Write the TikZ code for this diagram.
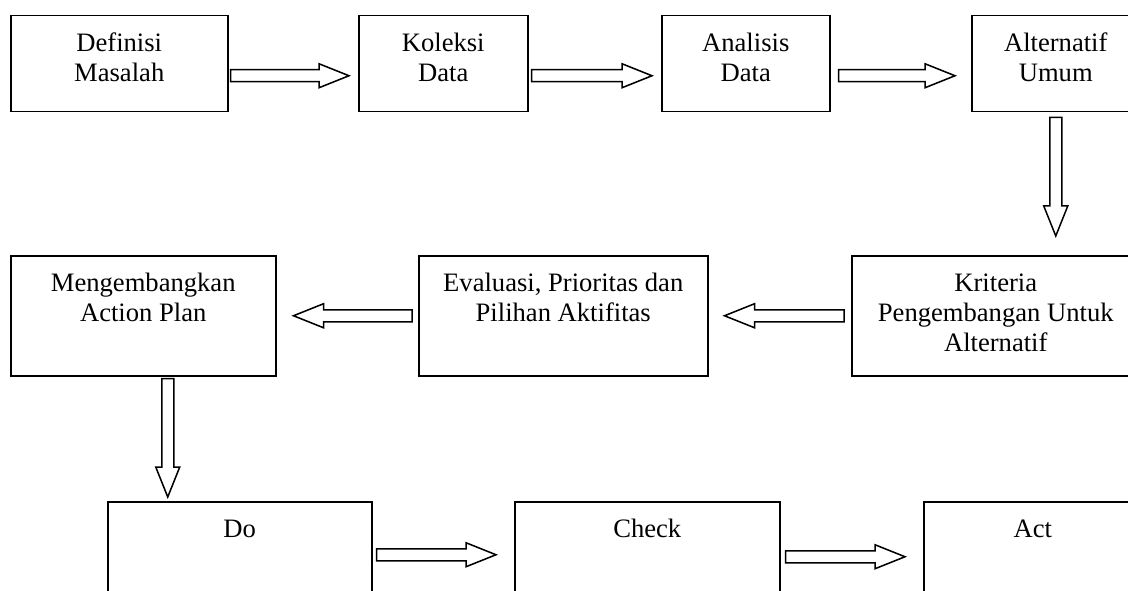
\documentclass[tikz,border=0pt]{standalone}
\usepackage{fontspec}
\setmainfont{Liberation Serif}
\usetikzlibrary{calc}

\tikzset{
  box/.style={draw, line width=1.5pt, inner sep=0pt, anchor=north west},
  lbl/.style={align=center, inner sep=0pt, anchor=base,
    font=\fontsize{26.6}{30}\selectfont},
  blockarrow/.style={draw, line width=1.5pt, line join=miter, fill=white},
}

% hollow block arrow from coordinate #1 to coordinate #2
\newcommand\fatarrow[2]{%
  \draw[blockarrow] let \p1=(#1), \p2=(#2),
    \n1={atan2(\y2-\y1,\x2-\x1)}, \n2={veclen(\x2-\x1,\y2-\y1)} in
    [shift={(\p1)}, rotate=\n1]
    (0,-6) -- ({\n2-30},-6) -- ({\n2-30},-12) -- (\n2,0)
    -- ({\n2-30},12) -- ({\n2-30},6) -- (0,6) -- cycle;}

\begin{document}
\begin{tikzpicture}[x=1pt, y=1pt]
\useasboundingbox (0,0) rectangle (1128,-591);
\clip (0,0) rectangle (1128,-591);

% first row
\node[box, minimum width=217pt, minimum height=96pt] (def) at (10,-15) {};
\node[box, minimum width=169pt, minimum height=96pt] (kol) at (358,-15) {};
\node[box, minimum width=168pt, minimum height=96pt] (ana) at (661,-15) {};
\node[box, minimum width=168pt, minimum height=96pt] (alt) at (971,-15) {};

% second row
\node[box, minimum width=265pt, minimum height=120pt] (men) at (10,-255) {};
\node[box, minimum width=289pt, minimum height=120pt] (eva) at (418,-255) {};
\node[box, minimum width=288pt, minimum height=120pt] (kri) at (851,-255) {};

% third row
\node[box, minimum width=264pt, minimum height=120pt] (do) at (107,-501) {};
\node[box, minimum width=265pt, minimum height=120pt] (chk) at (514,-501) {};
\node[box, minimum width=218pt, minimum height=120pt] (act) at (923,-501) {};

% labels (anchored on the baseline of their last line)
\node[lbl] (def-t) at ([yshift=-67pt]def.north) {Definisi\\Masalah};
\node[lbl] (kol-t) at ([yshift=-67pt]kol.north) {Koleksi\\Data};
\node[lbl] (ana-t) at ([yshift=-67pt]ana.north) {Analisis\\Data};
\node[lbl] (alt-t) at ([yshift=-67pt]alt.north) {Alternatif\\Umum};
\node[lbl] (men-t) at ([yshift=-66pt]men.north) {Mengembangkan\\Action Plan};
\node[lbl] (eva-t) at ([yshift=-66.5pt]eva.north) {Evaluasi, Prioritas dan\\Pilihan Aktifitas};
\node[lbl] (kri-t) at ([yshift=-96pt]kri.north) {Kriteria\\Pengembangan Untuk\\Alternatif};
\node[lbl] (do-t)  at ([yshift=-36pt]do.north)  {Do};
\node[lbl] (chk-t) at ([yshift=-36pt]chk.north) {Check};
\node[lbl] (act-t) at ([yshift=-36pt]act.north) {Act};

% arrow end points
\coordinate (s1) at ($(def.east)+(2,-12)$);
\coordinate (e1) at ($(kol.west)+(-9,-12)$);
\coordinate (s2) at ($(kol.east)+(3,-12)$);
\coordinate (e2) at ($(ana.west)+(-9,-12)$);
\coordinate (s3) at ($(ana.east)+(8,-12)$);
\coordinate (e3) at ($(alt.west)+(-16,-12)$);
\coordinate (s4) at ($(alt.south)+(0,-5)$);
\coordinate (e4) at ($(kri.north -| alt.south)+(0,19)$);
\coordinate (s5) at ($(kri.west)+(-7,0)$);
\coordinate (e5) at ($(eva.east)+(16,0)$);
\coordinate (s6) at ($(eva.west)+(-6,0)$);
\coordinate (e6) at ($(men.east)+(17,0)$);
\coordinate (s7) at ($(men.south)+(24.5,-2)$);
\coordinate (e7) at ($(do.north -| men.south)+(24.5,4)$);
\coordinate (s8) at ($(do.east)+(4,7)$);
\coordinate (e8) at ($(chk.west)+(-18,7)$);
\coordinate (s9) at ($(chk.east)+(5,5)$);
\coordinate (e9) at ($(act.west)+(-18,5)$);

% arrows
\fatarrow{s1}{e1}
\fatarrow{s2}{e2}
\fatarrow{s3}{e3}
\fatarrow{s4}{e4}
\fatarrow{s5}{e5}
\fatarrow{s6}{e6}
\fatarrow{s7}{e7}
\fatarrow{s8}{e8}
\fatarrow{s9}{e9}
\end{tikzpicture}
\end{document}
